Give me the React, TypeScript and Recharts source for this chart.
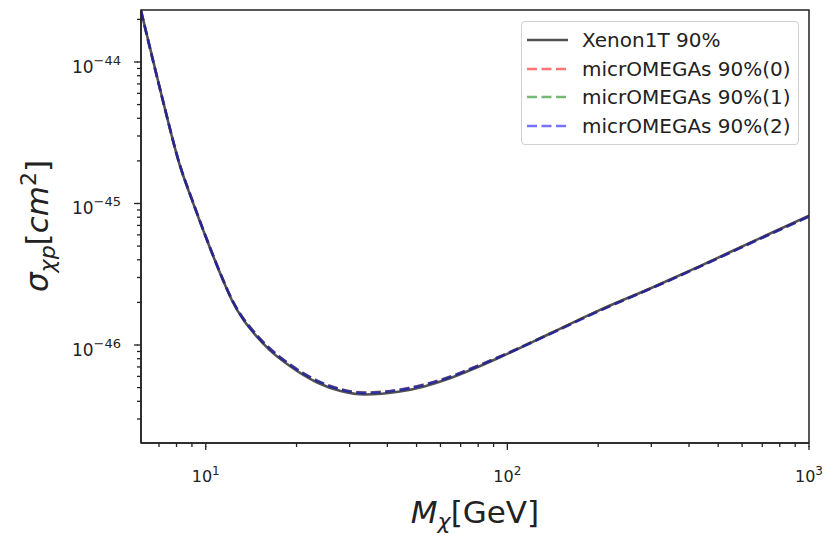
import { Legend, Line, LineChart, ReferenceArea, XAxis, YAxis } from 'recharts';

// DM mass in GeV
const MASS = [
  6.1, 7.2, 8.2, 9, 10.3, 11.4, 12.2, 14.8, 16.3, 19, 23.4, 28, 33.7, 44, 53, 64.5, 78, 94.5, 138, 203, 300, 435,
  650, 1000,
];

// spin-independent cross section limits, cm^2
const XENON = [
  2.3e-44, 5.39e-45, 1.87e-45, 1.06e-45, 4.93e-46, 2.88e-46, 2.08e-46, 1.14e-46, 9.2e-47, 7.1e-47, 5.43e-47,
  4.73e-47, 4.47e-47, 4.69e-47, 5.1e-47, 5.82e-47, 6.85e-47, 8.2e-47, 1.2e-46, 1.77e-46, 2.53e-46, 3.61e-46,
  5.38e-46, 8.2e-46,
];
const MO_0 = [
  2.3e-44, 5.4e-45, 1.88e-45, 1.07e-45, 4.97e-46, 2.91e-46, 2.11e-46, 1.17e-46, 9.48e-47, 7.3e-47, 5.6e-47,
  4.88e-47, 4.61e-47, 4.84e-47, 5.26e-47, 5.97e-47, 7.0e-47, 8.3e-47, 1.2e-46, 1.76e-46, 2.52e-46, 3.59e-46,
  5.34e-46, 8.12e-46,
];
const MO_1 = [
  2.3e-44, 5.4e-45, 1.88e-45, 1.07e-45, 4.96e-46, 2.9e-46, 2.1e-46, 1.17e-46, 9.46e-47, 7.29e-47, 5.59e-47,
  4.87e-47, 4.6e-47, 4.83e-47, 5.25e-47, 5.96e-47, 6.99e-47, 8.29e-47, 1.2e-46, 1.76e-46, 2.52e-46, 3.59e-46,
  5.33e-46, 8.1e-46,
];
const MO_2 = [
  2.3e-44, 5.4e-45, 1.88e-45, 1.07e-45, 4.96e-46, 2.9e-46, 2.1e-46, 1.16e-46, 9.44e-47, 7.28e-47, 5.58e-47,
  4.86e-47, 4.59e-47, 4.82e-47, 5.24e-47, 5.95e-47, 6.97e-47, 8.27e-47, 1.19e-46, 1.75e-46, 2.51e-46, 3.58e-46,
  5.32e-46, 8.08e-46,
];

const X_TICKS = [7, 8, 9, 10, 20, 30, 40, 50, 60, 70, 80, 90, 100, 200, 300, 400, 500, 600, 700, 800, 900, 1000];
const Y_TICKS = [
  3e-47, 4e-47, 5e-47, 6e-47, 7e-47, 8e-47, 9e-47,
  1e-46, 2e-46, 3e-46, 4e-46, 5e-46, 6e-46, 7e-46, 8e-46, 9e-46,
  1e-45, 2e-45, 3e-45, 4e-45, 5e-45, 6e-45, 7e-45, 8e-45, 9e-45,
  1e-44, 2e-44,
];
const X_DOMAIN = [6.1, 1000];
const Y_DOMAIN = [2.03e-47, 2.33e-44];

const SERIES = [
  { key: 'xenon', name: 'Xenon1T 90%', color: '#000000', opacity: 0.68, dash: undefined as string | undefined },
  { key: 'mo0', name: 'micrOMEGAs 90%(0)', color: '#ff0000', opacity: 0.55, dash: '10 4.5' },
  { key: 'mo1', name: 'micrOMEGAs 90%(1)', color: '#008000', opacity: 0.55, dash: '10 4.5' },
  { key: 'mo2', name: 'micrOMEGAs 90%(2)', color: '#0000ff', opacity: 0.55, dash: '10 4.5' },
];

const data = MASS.map((m, i) => ({ m, xenon: XENON[i], mo0: MO_0[i], mo1: MO_1[i], mo2: MO_2[i] }));

const FONT = '"DejaVu Sans", sans-serif';
const INK = '#222';
const MINOR = 4;

const isDecade = (v: number) => {
  const l = Math.log10(v);
  return Math.abs(l - Math.round(l)) < 1e-6;
};
const expOf = (v: number) => {
  const e = Math.round(Math.log10(v));
  return e < 0 ? `\u2212${-e}` : `${e}`;
};

// recharts draws the short (minor) tick line; decades get an extra segment and a label
function XTick(props: any) {
  const x = Number(props.x);
  const y = Number(props.y);
  const v = props.payload.value;
  if (!isDecade(v)) return <g />;
  return (
    <g>
      <line x1={x} x2={x} y1={y - 1} y2={y + 3} stroke={INK} strokeWidth={1.3} />
      <text x={x} y={y + 35} textAnchor="middle" fontSize={16} fill={INK} fontFamily={FONT}>
        10<tspan dy={-7} fontSize={12}>{expOf(v)}</tspan>
      </text>
    </g>
  );
}

function YTick(props: any) {
  const x = Number(props.x);
  const y = Number(props.y);
  const v = props.payload.value;
  if (!isDecade(v)) return <g />;
  return (
    <g>
      <line x1={x - 3} x2={x + 1} y1={y} y2={y} stroke={INK} strokeWidth={1.3} />
      <text x={x - 16} y={y + 11} textAnchor="end" fontSize={17} fill={INK} fontFamily={FONT}>
        10<tspan dy={-8} fontSize={13}>{expOf(v)}</tspan>
      </text>
    </g>
  );
}

function LegendBox() {
  return (
    <div
      style={{
        border: '1px solid #d0d0d0',
        borderRadius: 4,
        background: 'rgba(255,255,255,0.8)',
        width: 278,
        height: 124,
        boxSizing: 'border-box',
        paddingTop: 4,
        fontFamily: FONT,
        fontSize: 20,
        color: INK,
      }}
    >
      {SERIES.map((s) => (
        <div key={s.key} style={{ display: 'flex', alignItems: 'center', height: 28.5 }}>
          <svg width={55} height={10} style={{ marginLeft: 5, flex: 'none' }}>
            <line
              x1={0}
              x2={41}
              y1={5}
              y2={5}
              stroke={s.color}
              strokeOpacity={s.opacity}
              strokeWidth={2.6}
              strokeDasharray={s.dash}
            />
          </svg>
          <span style={{ whiteSpace: 'nowrap' }}>{s.name}</span>
        </div>
      ))}
    </div>
  );
}

const XTitle = () => (
  <text x={475} y={523} textAnchor="middle" fontFamily={FONT} fontSize={31} fill={INK}>
    <tspan fontStyle="italic">M</tspan>
    <tspan fontStyle="italic" fontSize={22} dy={6}>χ</tspan>
    <tspan dy={-6}>[GeV]</tspan>
  </text>
);

const YTitle = () => (
  <text transform="translate(48 226) rotate(-90)" textAnchor="middle" fontFamily={FONT} fontSize={31} fill={INK}>
    <tspan fontStyle="italic">σ</tspan>
    <tspan fontStyle="italic" fontSize={22} dy={7}>χp</tspan>
    <tspan dy={-7}>[</tspan>
    <tspan fontStyle="italic">cm</tspan>
    <tspan fontSize={22} dy={-12}>2</tspan>
    <tspan dy={12}>]</tspan>
  </text>
);

export default function App() {
  return (
    <div style={{ position: 'absolute', left: 0, top: 0, background: '#fff' }}>
      <LineChart width={827} height={535} data={data} margin={{ top: 10, right: 18, bottom: 0, left: 0 }}>
        <XAxis
          dataKey="m"
          type="number"
          scale="log"
          domain={X_DOMAIN}
          allowDataOverflow
          ticks={X_TICKS}
          interval={0}
          tick={(p: any) => <XTick {...p} />}
          tickLine={{ stroke: INK, strokeWidth: 1.3 }}
          axisLine={{ stroke: INK, strokeWidth: 1.5 }}
          tickSize={MINOR}
          tickMargin={0}
          height={92}
          label={{ content: () => <XTitle /> }}
        />
        <YAxis
          type="number"
          scale="log"
          domain={Y_DOMAIN}
          allowDataOverflow
          ticks={Y_TICKS}
          interval={0}
          tick={(p: any) => <YTick {...p} />}
          tickLine={{ stroke: INK, strokeWidth: 1.3 }}
          axisLine={{ stroke: INK, strokeWidth: 1.5 }}
          tickSize={MINOR}
          tickMargin={0}
          width={141}
          label={{ content: () => <YTitle /> }}
        />
        {SERIES.map((s) => (
          <Line
            key={s.key}
            dataKey={s.key}
            name={s.name}
            type="monotone"
            stroke={s.color}
            strokeOpacity={s.opacity}
            strokeWidth={2.6}
            strokeDasharray={s.dash}
            dot={false}
            isAnimationActive={false}
          />
        ))}
        <ReferenceArea
          x1={X_DOMAIN[0]}
          x2={X_DOMAIN[1]}
          y1={Y_DOMAIN[0]}
          y2={Y_DOMAIN[1]}
          fill="none"
          stroke={INK}
          strokeWidth={1.5}
          ifOverflow="visible"
        />
        <Legend
          layout="horizontal"
          verticalAlign="middle"
          align="center"
          content={() => <LegendBox />}
          wrapperStyle={{ left: 521, top: 21, width: 278 }}
        />
      </LineChart>
    </div>
  );
}
